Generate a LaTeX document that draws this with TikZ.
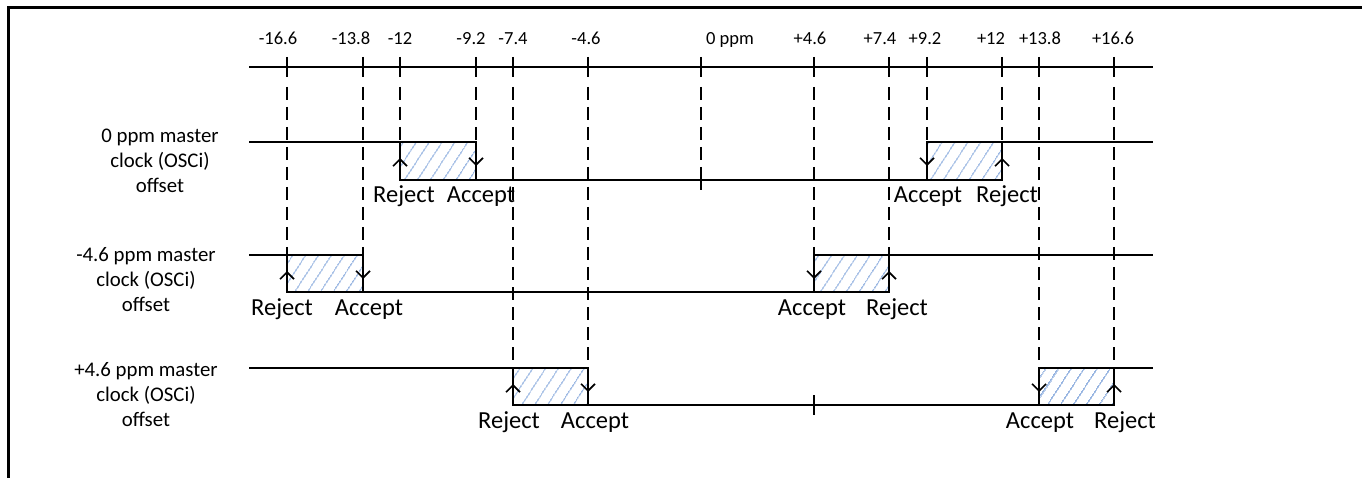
\documentclass[tikz,border=0pt]{standalone}
\usepackage{fontspec}
\setmainfont{Carlito}
\usepackage{tikz}
\usetikzlibrary{arrows.meta,patterns.meta,calc}
\definecolor{hatch}{RGB}{150,180,225}
\tikzstyle{level} = [line width=1.3pt]
\tikzstyle{window} = [draw,line width=2pt,pattern={Lines[angle=57,distance=10.5pt,line width=1.1pt]},pattern color=hatch]
\tikzstyle{limit} = [line width=1.3pt,dash pattern=on 13pt off 7pt]
\tikzstyle{edgearrow} = [line width=1.6pt,arrows={-Straight Barb[length=7pt,width=14pt]}]
\tikzstyle{ppm} = [font=\fontsize{18.5}{22}\selectfont,anchor=base,inner sep=0pt]
\tikzstyle{verdict} = [font=\fontsize{24.5}{28}\selectfont,anchor=base,inner sep=0pt]
\tikzstyle{rowname} = [font=\fontsize{20.8}{25}\selectfont,align=center,inner sep=0pt]

\begin{document}
\begin{tikzpicture}[x=1pt,y=-1pt]
      \useasboundingbox (0,0) rectangle (1362,478);
      \draw[line width=3pt] (8,478) -- (8,8) -- (1362,8);

      % ppm axis
      \draw[level] (249,67) -- (1153,67);
      \foreach \x/\lab/\dx/\yend [count=\i] in {287/-16.6/-9/255, 363/-13.8/-12/255,
            400/-12/0/142, 476/-9.2/-5/142, 513/-7.4/0/368, 588/-4.6/-2/368,
            701/0 ppm/29/170, 814/+4.6/-4/255, 889/+7.4/-9/255, 927/+9.2/-2/142,
            1002/+12/-11/142, 1039/+13.8/1/368, 1114/+16.6/-1/368} {
            \draw[level] (\x,57) -- (\x,77);
            \draw[limit] (\x,87) -- (\x,\yend);
            \node (t\i)[ppm] at (\x+\dx,45) {\lab};
      }

      % 0 ppm
      \node (n1)[rowname] at (160,161) {0 ppm master\\clock (OSCi)\\offset};
      \draw[level] (249,142) -- (400,142);
      \draw[level] (476,180) -- (927,180);
      \draw[level] (1002,142) -- (1153,142);
      \draw[level] (701,170) -- (701,190);
      \draw[window] (400,142) rectangle (476,180);
      \draw[window] (927,142) rectangle (1002,180);
      \draw[edgearrow] (400,180) -- (400,158);
      \draw[edgearrow] (476,142) -- (476,166);
      \draw[edgearrow] (927,142) -- (927,166);
      \draw[edgearrow] (1002,180) -- (1002,158);
      \node (a1)[verdict] at (404,203) {Reject};
      \node (b1)[verdict] at (481,203) {Accept};
      \node (c1)[verdict] at (928,203) {Accept};
      \node (d1)[verdict] at (1007,203) {Reject};

      % -4.6 ppm
      \node (n2)[rowname] at (146,280) {-4.6 ppm master\\clock (OSCi)\\offset};
      \draw[level] (249,255) -- (287,255);
      \draw[level] (363,292) -- (814,292);
      \draw[level] (889,255) -- (1153,255);
      \draw[window] (287,255) rectangle (363,292);
      \draw[window] (814,255) rectangle (889,292);
      \draw[edgearrow] (287,292) -- (287,271);
      \draw[edgearrow] (363,255) -- (363,279);
      \draw[edgearrow] (814,255) -- (814,279);
      \draw[edgearrow] (889,292) -- (889,271);
      \node (a2)[verdict] at (282,316) {Reject};
      \node (b2)[verdict] at (369,316) {Accept};
      \node (c2)[verdict] at (812,316) {Accept};
      \node (d2)[verdict] at (897,316) {Reject};

      % +4.6 ppm
      \node (n3)[rowname] at (146,395) {+4.6 ppm master\\clock (OSCi)\\offset};
      \draw[level] (249,368) -- (513,368);
      \draw[level] (588,405) -- (1039,405);
      \draw[level] (1114,368) -- (1153,368);
      \draw[level] (814,395) -- (814,415);
      \draw[window] (513,368) rectangle (588,405);
      \draw[window] (1039,368) rectangle (1114,405);
      \draw[edgearrow] (513,405) -- (513,384);
      \draw[edgearrow] (588,368) -- (588,392);
      \draw[edgearrow] (1039,368) -- (1039,392);
      \draw[edgearrow] (1114,405) -- (1114,384);
      \node (a3)[verdict] at (509,428) {Reject};
      \node (b3)[verdict] at (595,428) {Accept};
      \node (c3)[verdict] at (1040,428) {Accept};
      \node (d3)[verdict] at (1125,428) {Reject};
\end{tikzpicture}
\end{document}
